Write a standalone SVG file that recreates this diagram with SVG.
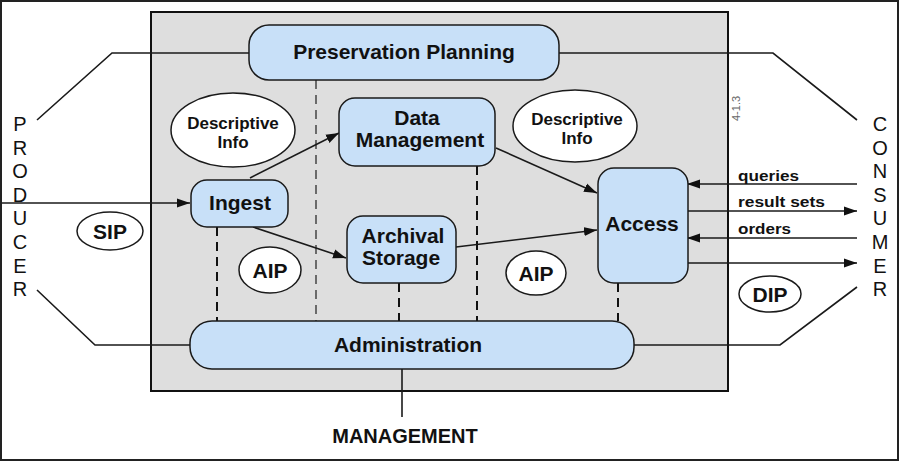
<svg xmlns="http://www.w3.org/2000/svg" width="900" height="462" viewBox="0 0 900 462">
<style>
.node rect{fill:#c8e0f8;stroke:#1a1a1a;stroke-width:1.5}
.oval ellipse{fill:#ffffff;stroke:#1a1a1a;stroke-width:1.5}
.t{font-family:"Liberation Sans",Arial,sans-serif;font-weight:bold;fill:#111;text-anchor:middle}
.n{font-size:21px}
.d{font-size:17px}
.side{font-family:"Liberation Sans",Arial,sans-serif;font-size:20px;fill:#111;text-anchor:middle}
.lbl{font-family:"Liberation Sans",Arial,sans-serif;font-size:15px;font-weight:bold;fill:#111}
.ln{fill:none;stroke:#1a1a1a;stroke-width:1.6}
.arr{fill:none;stroke:#1a1a1a;stroke-width:1.6;marker-end:url(#ah)}
.dash{fill:none;stroke:#111;stroke-width:2;stroke-dasharray:9,6}
.dash2{fill:none;stroke:#444;stroke-width:1.5;stroke-dasharray:9,6}
</style>
<defs>
<marker id="ah" markerUnits="userSpaceOnUse" markerWidth="14" markerHeight="10" refX="13" refY="5" orient="auto">
<path d="M0,0.5 L13,5 L0,9.5 Z" fill="#111"/>
</marker>
</defs>
<rect x="0" y="0" width="900" height="462" fill="#ffffff"/>
<rect x="1" y="1" width="897" height="459" fill="none" stroke="#222" stroke-width="2"/>
<g id="system-box">
<rect x="151" y="12" width="577" height="379" fill="#dedede" stroke="#111" stroke-width="2"/>
<text x="740" y="121" transform="rotate(-90 740 121)" font-family="Liberation Sans,Arial,sans-serif" font-size="11" fill="#666">4-1.3</text>
</g>
<g id="connectors">
<polyline class="ln" points="37,120 112,53 249,53"/>
<polyline class="ln" points="559,53 773,53 857,120"/>
<polyline class="ln" points="37,290 95,345 190,345"/>
<polyline class="ln" points="634,345 780,345 857,287"/>
<line class="ln" x1="402" y1="369" x2="402" y2="417"/>
<line class="dash2" x1="316" y1="80" x2="316" y2="321"/>
<line class="dash" x1="217" y1="227" x2="217" y2="321"/>
<line class="dash" x1="399" y1="283" x2="399" y2="321"/>
<line class="dash" x1="477" y1="166" x2="477" y2="321"/>
<line class="dash" x1="618" y1="283" x2="618" y2="321"/>
<line class="arr" x1="2" y1="203" x2="190" y2="203"/>
<line class="arr" x1="250" y1="178" x2="339" y2="133"/>
<line class="arr" x1="253" y1="227" x2="346" y2="258"/>
<line class="arr" x1="496" y1="148" x2="597" y2="193"/>
<line class="arr" x1="456" y1="247" x2="597" y2="230"/>
<line class="arr" x1="857" y1="184" x2="687" y2="184"/>
<line class="arr" x1="688" y1="211" x2="857" y2="211"/>
<line class="arr" x1="857" y1="238" x2="687" y2="238"/>
<line class="arr" x1="688" y1="263" x2="857" y2="263"/>
<text class="lbl" x="738" y="181" textLength="61" lengthAdjust="spacingAndGlyphs">queries</text>
<text class="lbl" x="738" y="207" textLength="87" lengthAdjust="spacingAndGlyphs">result sets</text>
<text class="lbl" x="738" y="234" textLength="53" lengthAdjust="spacingAndGlyphs">orders</text>
</g>
<g id="preservation-planning" class="node">
<rect x="249" y="25" width="310" height="55" rx="20"/>
<text class="t n" x="404" y="59">Preservation Planning</text>
</g>
<g id="data-management" class="node">
<rect x="339" y="98" width="156" height="68" rx="16"/>
<text class="t n" x="417" y="125">Data</text>
<text class="t n" x="420" y="147">Management</text>
</g>
<g id="ingest" class="node">
<rect x="191" y="180" width="97" height="47" rx="16"/>
<text class="t n" x="240" y="210">Ingest</text>
</g>
<g id="archival-storage" class="node">
<rect x="347" y="216" width="109" height="67" rx="16"/>
<text class="t n" x="403" y="243">Archival</text>
<text class="t n" x="401" y="265">Storage</text>
</g>
<g id="access" class="node">
<rect x="598" y="168" width="90" height="115" rx="16"/>
<text class="t n" x="642" y="231">Access</text>
</g>
<g id="administration" class="node">
<rect x="190" y="321" width="444" height="48" rx="22"/>
<text class="t n" x="408" y="352">Administration</text>
</g>
<g id="descriptive-info-left" class="oval">
<ellipse cx="233" cy="130" rx="62" ry="37"/>
<text class="t d" x="233" y="129">Descriptive</text>
<text class="t d" x="233" y="148">Info</text>
</g>
<g id="descriptive-info-right" class="oval">
<ellipse cx="575" cy="126" rx="62" ry="36"/>
<text class="t d" x="577" y="125">Descriptive</text>
<text class="t d" x="577" y="144">Info</text>
</g>
<g id="sip" class="oval">
<ellipse cx="110" cy="231" rx="33" ry="19"/>
<text class="t n" x="110" y="239">SIP</text>
</g>
<g id="aip-left" class="oval">
<ellipse cx="270" cy="270" rx="31" ry="23"/>
<text class="t n" x="270" y="278">AIP</text>
</g>
<g id="aip-right" class="oval">
<ellipse cx="536" cy="273" rx="30" ry="22"/>
<text class="t n" x="536" y="281">AIP</text>
</g>
<g id="dip" class="oval">
<ellipse cx="770" cy="294" rx="31" ry="18"/>
<text class="t n" x="770" y="302">DIP</text>
</g>
<g id="producer">
<text class="side" x="20" y="131">P</text>
<text class="side" x="20" y="155">R</text>
<text class="side" x="20" y="178">O</text>
<text class="side" x="20" y="202">D</text>
<text class="side" x="20" y="225">U</text>
<text class="side" x="20" y="249">C</text>
<text class="side" x="20" y="273">E</text>
<text class="side" x="20" y="296">R</text>
</g>
<g id="consumer">
<text class="side" x="880" y="131">C</text>
<text class="side" x="880" y="155">O</text>
<text class="side" x="880" y="178">N</text>
<text class="side" x="880" y="202">S</text>
<text class="side" x="880" y="225">U</text>
<text class="side" x="880" y="249">M</text>
<text class="side" x="880" y="273">E</text>
<text class="side" x="880" y="296">R</text>
</g>
<g id="management">
<text class="t" x="405" y="443" font-size="20">MANAGEMENT</text>
</g>
</svg>
